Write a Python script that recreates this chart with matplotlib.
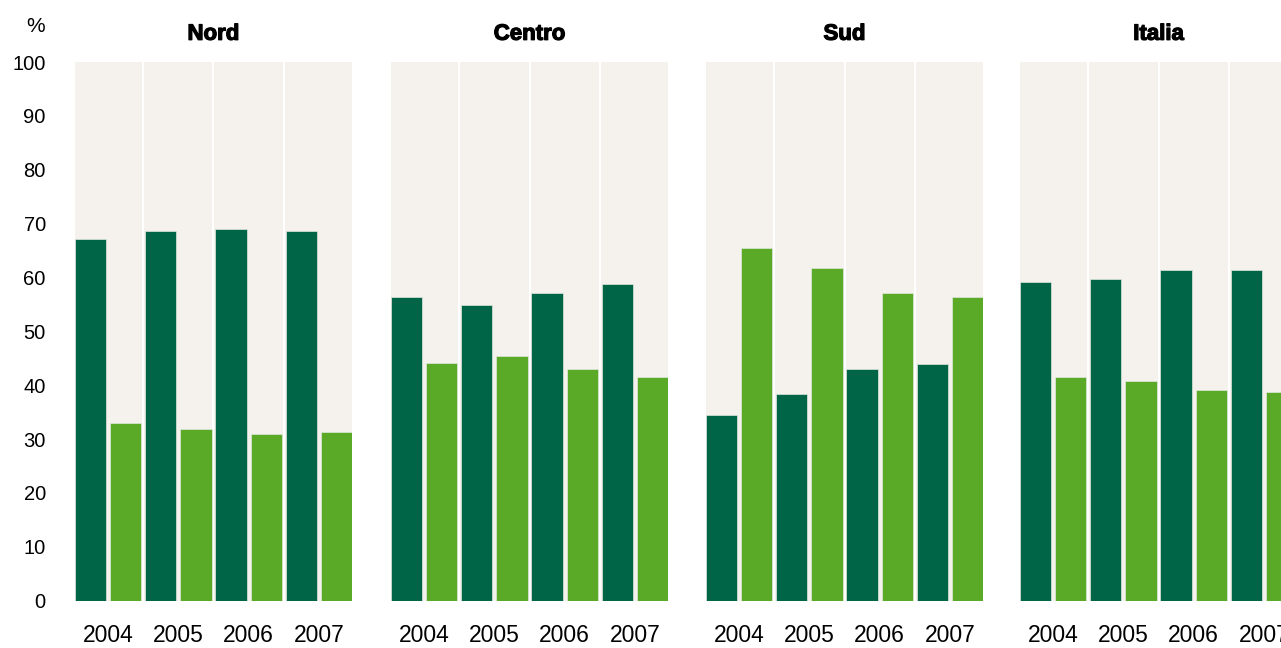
import matplotlib.pyplot as plt
import matplotlib.patheffects as pe
import numpy as np

plt.rcParams['font.family'] = ['Liberation Sans', 'DejaVu Sans']

regions = ['Nord', 'Centro', 'Sud', 'Italia']
years = ['2004', '2005', '2006', '2007']

# dark series / light series, % per year
dark_vals = {
    'Nord': [67.1, 68.7, 69.0, 68.7],
    'Centro': [56.3, 54.8, 57.1, 58.7],
    'Sud': [34.5, 38.4, 43.1, 43.9],
    'Italia': [59.1, 59.8, 61.4, 61.4],
}
light_vals = {
    'Nord': [33.0, 31.8, 31.0, 31.4],
    'Centro': [44.2, 45.4, 43.1, 41.5],
    'Sud': [65.5, 61.8, 57.1, 56.3],
    'Italia': [41.5, 40.8, 39.2, 38.8],
}
yticks = [0, 10, 20, 30, 40, 50, 60, 70, 80, 90, 100]

DARK = '#006446'
LIGHT = '#5AAA28'
BG = '#F5F2EE'

W, H = 1281, 648
fig = plt.figure(figsize=(W / 100, H / 100), dpi=100)

panel_left = [75, 391, 706, 1020]
panel_w = 277
bottom_px, top_px = 600.7, 62

for i, reg in enumerate(regions):
    ax = fig.add_axes([panel_left[i] / W, (H - bottom_px) / H,
                       panel_w / W, (bottom_px - top_px) / H])
    ax.set_facecolor(BG)
    x = np.arange(len(years)) * 2
    bw = 0.89
    ax.bar(x, dark_vals[reg], width=bw, color=DARK, edgecolor='#dfe9dc', linewidth=0.5, zorder=3)
    ax.bar(x + 1, light_vals[reg], width=bw, color=LIGHT, edgecolor='#dfe9dc', linewidth=0.5, zorder=3)
    for sep in x[1:] - 0.5:
        ax.axvline(sep, color='white', lw=1.5, zorder=2)
    ax.set_xlim(-bw / 2, 7 + bw / 2)
    ax.set_ylim(0, 100)
    ax.set_xticks(x + 0.5)
    ax.set_xticklabels(years, fontsize=16.5)
    ax.tick_params(axis='x', length=0, pad=17)
    if i == 0:
        ax.set_yticks(yticks)
        ax.set_yticklabels([str(v) for v in yticks], fontsize=14.5)
        ax.tick_params(axis='y', length=0, pad=21)
    else:
        ax.set_yticks([])
    for s in ax.spines.values():
        s.set_visible(False)
    t = ax.set_title(reg, fontsize=16, fontweight='heavy', pad=16)
    t.set_path_effects([pe.withStroke(linewidth=0.9, foreground='black')])

fig.text(45 / W, 1 - 26 / H, '%', fontsize=15, ha='right', va='center')

fig.savefig('out.png', dpi=100)
